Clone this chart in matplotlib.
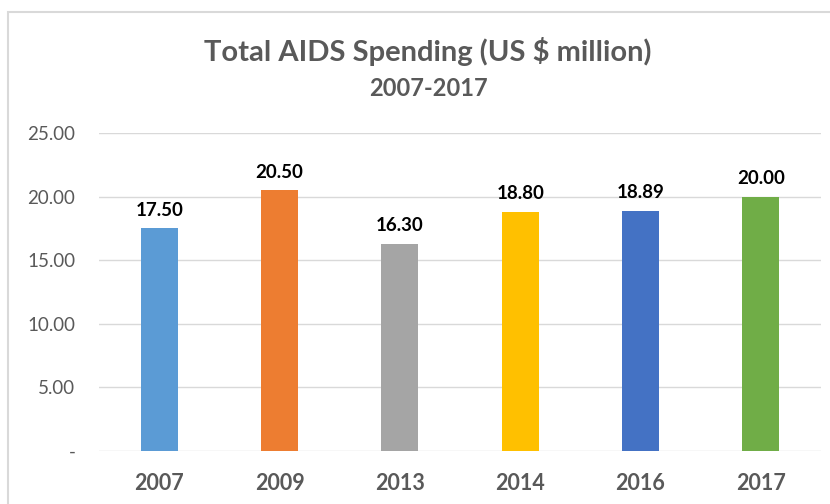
import matplotlib.pyplot as plt
from matplotlib.patches import Rectangle

years = ['2007', '2009', '2013', '2014', '2016', '2017']
spending = [17.50, 20.50, 16.30, 18.80, 18.89, 20.00]
colors = ['#5B9BD5', '#ED7D31', '#A5A5A5', '#FFC000', '#4472C4', '#70AD47']
yticks = [0, 5, 10, 15, 20, 25]
ytick_labels = ['-', '5.00', '10.00', '15.00', '20.00', '25.00']

plt.rcParams['font.family'] = ['Lato', 'DejaVu Sans']

W, H = 830, 504
fig = plt.figure(figsize=(W / 100, H / 100), dpi=100)

# plot area in pixel coords: x 99..821, y 133 (25) .. 451 (0)
ax = fig.add_axes([99 / W, 1 - 451 / H, (821 - 99) / W, (451 - 133) / H])

# chart frame
fig.patches.append(Rectangle((8 / W, -0.1), 1.2, 1 - 12 / H + 0.1,
                             transform=fig.transFigure, fill=False,
                             edgecolor='#D9D9D9', linewidth=1.5))

x = range(len(years))
ax.bar(x, spending, width=0.31, color=colors, zorder=3)
for i, v in enumerate(spending):
    ax.text(i, v + 0.75, f'{v:.2f}', ha='center', va='bottom',
            fontsize=13.5, fontweight='bold', color='#000000')

ax.set_xlim(-0.5, len(years) - 0.5)
ax.set_ylim(0, 25)
ax.set_yticks(yticks)
ax.set_yticklabels(ytick_labels, fontsize=13.5, color='#595959')
ax.set_xticks(list(x))
ax.set_xticklabels(years, fontsize=15.5, fontweight='bold', color='#595959')
ax.tick_params(axis='both', length=0)
ax.tick_params(axis='x', pad=16)
ax.tick_params(axis='y', pad=17)
ax.grid(axis='y', color='#D9D9D9', linewidth=1, zorder=0)
for s in ax.spines.values():
    s.set_visible(False)

fig.text(428 / W, 1 - 52 / H, 'Total AIDS Spending (US $ million)',
         ha='center', va='center', fontsize=21, fontweight='bold', color='#595959')
fig.text(428 / W, 1 - 88 / H, '2007-2017',
         ha='center', va='center', fontsize=17, fontweight='bold', color='#595959')

fig.savefig('out.png', dpi=100, facecolor='white')
